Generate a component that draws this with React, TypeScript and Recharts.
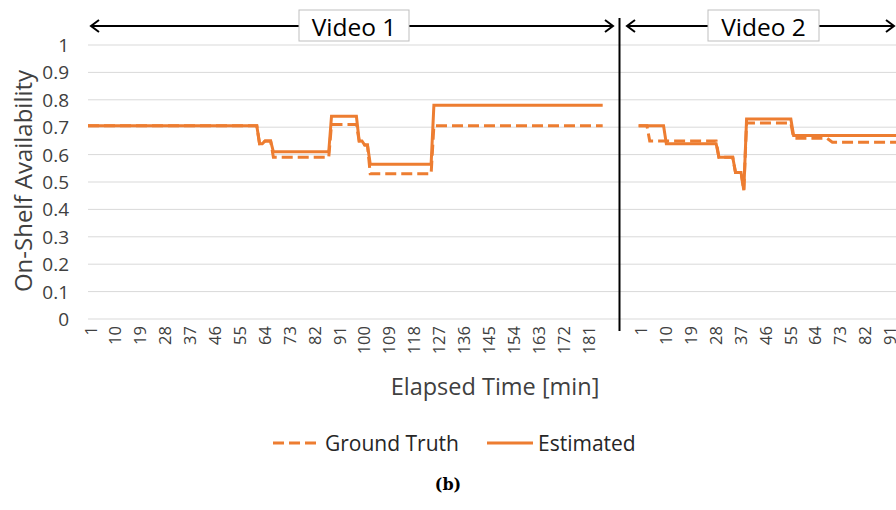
import { LineChart, Line, XAxis, YAxis, CartesianGrid } from 'recharts'

const ORANGE = '#ED7D31'
const FONT = '"Open Sans", "Noto Sans", sans-serif'
// video 2 minutes are placed after video 1 on one shared axis
const V2_OFFSET = 199

const yTicks = [0, 0.1, 0.2, 0.3, 0.4, 0.5, 0.6, 0.7, 0.8, 0.9, 1]
const v1TickMinutes = [1, 10, 19, 28, 37, 46, 55, 64, 73, 82, 91, 100, 109, 118, 127, 136, 145, 154, 163, 172, 181]
const v2TickMinutes = [1, 10, 19, 28, 37, 46, 55, 64, 73, 82, 91]

// Video 1 (minute, availability) knots
const v1GroundMin = [1, 62, 63, 64, 65, 67, 68, 88, 89, 98, 99, 100, 101, 102, 103, 125, 126, 187]
const v1GroundVal = [0.705, 0.705, 0.64, 0.64, 0.65, 0.65, 0.59, 0.59, 0.71, 0.71, 0.65, 0.65, 0.635, 0.635, 0.53, 0.53, 0.705, 0.705]
const v1EstMin = [1, 62, 63, 64, 65, 67, 68, 88, 89, 98, 99, 100, 101, 102, 103, 125, 126, 187]
const v1EstVal = [0.705, 0.705, 0.64, 0.64, 0.65, 0.65, 0.61, 0.61, 0.74, 0.74, 0.65, 0.65, 0.635, 0.635, 0.565, 0.565, 0.78, 0.78]

// Video 2
const v2GroundMin = [1, 4, 5, 29, 30, 35, 36, 38, 39, 40, 56, 57, 69, 71, 94]
const v2GroundVal = [0.705, 0.705, 0.65, 0.65, 0.59, 0.59, 0.535, 0.535, 0.47, 0.715, 0.715, 0.66, 0.66, 0.645, 0.645]
const v2EstMin = [1, 10, 11, 29, 30, 35, 36, 38, 39, 40, 56, 57, 94]
const v2EstVal = [0.705, 0.705, 0.64, 0.64, 0.59, 0.59, 0.535, 0.535, 0.47, 0.73, 0.73, 0.67, 0.67]

const toPoints = (mins: number[], vals: number[], offset: number) =>
  mins.map((m, i) => ({ p: m + offset, v: vals[i] }))

const xTicks = [...v1TickMinutes, ...v2TickMinutes.map((m) => m + V2_OFFSET)]

function XTick({ x, payload }: any) {
  const p = payload.value
  const label = p > V2_OFFSET ? p - V2_OFFSET : p
  return (
    <text
      transform={`translate(${x + 8.5},326) rotate(-90)`}
      textAnchor="end"
      fontSize={16.5}
      fontFamily={FONT}
      fill="#404040"
    >
      {label}
    </text>
  )
}

function YTick({ y, payload }: any) {
  const v = payload.value
  const label = v === 0 ? '0' : v === 1 ? '1' : v.toFixed(1)
  return (
    <text x={69} y={y} textAnchor="end" dominantBaseline="central" fontSize={19} fontFamily={FONT} fill="#404040">
      {label}
    </text>
  )
}

function Header({ x1, x2, boxX, boxW, label }: { x1: number; x2: number; boxX: number; boxW: number; label: string }) {
  return (
    <g>
      <line x1={x1} y1={26} x2={x2} y2={26} stroke="#000" strokeWidth={2} />
      <polyline points={`${x1 + 8},20 ${x1},26 ${x1 + 8},32`} fill="none" stroke="#000" strokeWidth={2} />
      <polyline points={`${x2 - 8},20 ${x2},26 ${x2 - 8},32`} fill="none" stroke="#000" strokeWidth={2} />
      <rect x={boxX} y={10} width={boxW} height={31} fill="#fff" stroke="#bfbfbf" />
      <text x={boxX + boxW / 2} y={26} textAnchor="middle" dominantBaseline="central" fontSize={24.5} fontFamily={FONT} fill="#000">
        {label}
      </text>
    </g>
  )
}

export default function App() {
  return (
    <div style={{ position: 'fixed', left: 0, top: 0, width: 896, height: 510, overflow: 'hidden', background: '#fff' }}>
      <div style={{ position: 'absolute', left: 0, top: 0 }}>
        <LineChart width={897} height={510} margin={{ top: 45, right: 1, bottom: 151, left: 0 }}>
          <CartesianGrid vertical={false} stroke="#d9d9d9" />
          <XAxis
            type="number"
            dataKey="p"
            domain={[1, 293]}
            ticks={xTicks}
            interval={0}
            height={40}
            axisLine={false}
            tickLine={false}
            tick={<XTick />}
            allowDataOverflow
          />
          <YAxis
            type="number"
            domain={[0, 1]}
            ticks={yTicks}
            width={88}
            axisLine={false}
            tickLine={false}
            tick={<YTick />}
          />
          <Line data={toPoints(v1GroundMin, v1GroundVal, 0)} dataKey="v" type="linear" stroke={ORANGE} strokeWidth={3} strokeDasharray="11 5" dot={false} isAnimationActive={false} />
          <Line data={toPoints(v2GroundMin, v2GroundVal, V2_OFFSET)} dataKey="v" type="linear" stroke={ORANGE} strokeWidth={3} strokeDasharray="11 5" dot={false} isAnimationActive={false} />
          <Line data={toPoints(v1EstMin, v1EstVal, 0)} dataKey="v" type="linear" stroke={ORANGE} strokeWidth={3} dot={false} isAnimationActive={false} />
          <Line data={toPoints(v2EstMin, v2EstVal, V2_OFFSET)} dataKey="v" type="linear" stroke={ORANGE} strokeWidth={3} dot={false} isAnimationActive={false} />
        </LineChart>
      </div>
      <svg width={896} height={510} style={{ position: 'absolute', left: 0, top: 0, pointerEvents: 'none' }}>
        <line x1={619.5} y1={18} x2={619.5} y2={331} stroke="#000" strokeWidth={2} />
        <Header x1={91} x2={613} boxX={299} boxW={110} label="Video 1" />
        <Header x1={627} x2={894} boxX={708} boxW={111} label="Video 2" />
        <text transform="translate(22,181) rotate(-90)" textAnchor="middle" dominantBaseline="central" fontSize={24} fontFamily={FONT} fill="#404040">
          On-Shelf Availability
        </text>
        <text x={495} y={386} textAnchor="middle" dominantBaseline="central" fontSize={23.5} fontFamily={FONT} fill="#404040">
          Elapsed Time [min]
        </text>
        <line x1={273} y1={443} x2={318} y2={443} stroke={ORANGE} strokeWidth={3} strokeDasharray="11 5" />
        <text x={325} y={443} dominantBaseline="central" fontSize={21} fontFamily={FONT} fill="#262626">
          Ground Truth
        </text>
        <line x1={487} y1={443} x2={533} y2={443} stroke={ORANGE} strokeWidth={3} />
        <text x={538} y={443} dominantBaseline="central" fontSize={21} fontFamily={FONT} fill="#262626">
          Estimated
        </text>
        <text x={448} y={484} textAnchor="middle" dominantBaseline="central" fontSize={16} fontWeight="bold" fontFamily='"DejaVu Serif", "Liberation Serif", serif' fill="#000">
          (b)
        </text>
      </svg>
    </div>
  )
}
